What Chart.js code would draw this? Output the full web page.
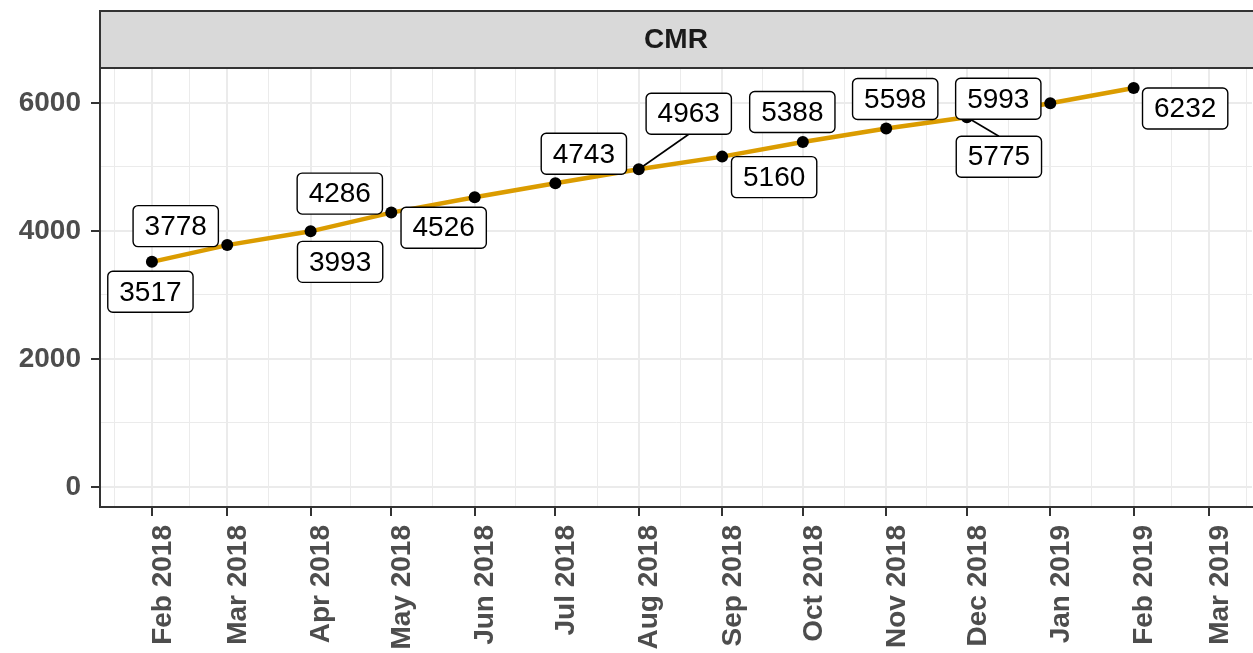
<!DOCTYPE html>
<html lang="en">
<head>
  <meta charset="UTF-8">
  <title>CMR</title>
  <script src="https://cdn.jsdelivr.net/npm/chart.js"></script>
  <style>
    html, body {
      margin: 0;
      padding: 0;
      background: #fff;
      overflow: hidden;
    }
    /* a few px wider than the window: chart.js keeps a small gap on the right */
    #wrap {
      position: relative;
      width: 1258px;
      height: 653px;
    }
    canvas {
      display: block;
    }
  </style>
</head>
<body>
  <div id="wrap"><canvas id="cmrChart"></canvas></div>

  <script>
    // data
    const months = ['2018-02', '2018-03', '2018-04', '2018-05', '2018-06', '2018-07', '2018-08',
                    '2018-09', '2018-10', '2018-11', '2018-12', '2019-01', '2019-02'];
    const counts = [3517, 3778, 3993, 4286, 4526, 4743, 4963, 5160, 5388, 5598, 5775, 5993, 6232];

    const tickMonths = ['2018-02', '2018-03', '2018-04', '2018-05', '2018-06', '2018-07', '2018-08',
                        '2018-09', '2018-10', '2018-11', '2018-12', '2019-01', '2019-02', '2019-03'];
    const tickLabels = ['Feb 2018', 'Mar 2018', 'Apr 2018', 'May 2018', 'Jun 2018', 'Jul 2018', 'Aug 2018',
                        'Sep 2018', 'Oct 2018', 'Nov 2018', 'Dec 2018', 'Jan 2019', 'Feb 2019', 'Mar 2019'];
    const yTicks = [0, 2000, 4000, 6000];
    const panelTitle = 'CMR';

    // where the repelled labels sit, in px from their point
    const labelShift = [[-1.5, 30], [-51.5, -19], [29.5, 30.5], [-51.5, -19], [-31, 30.5], [28.5, -29.5],
                        [50, -55.5], [52, 20.5], [-10.5, -30], [9, -29.5], [32, 39.5], [-52, -4.5], [51.5, 20.5]];

    const toTime = m => {
      const [y, mo] = m.split('-').map(Number);
      return Date.UTC(y, mo - 1, 1);
    };
    const DAY = 86400000;

    const tickTimes = tickMonths.map(toTime);
    const step = tickTimes[1] - tickTimes[0];
    const xTickList = [];
    xTickList.push({ value: tickTimes[0] - step / 2, minor: true });
    tickTimes.forEach((t, i) => {
      xTickList.push({ value: t, label: tickLabels[i] });
      if (i < tickTimes.length - 1) xTickList.push({ value: (t + tickTimes[i + 1]) / 2, minor: true });
    });
    xTickList.push({ value: tickTimes[tickTimes.length - 1] + step / 2, minor: true });

    const yTickList = [];
    yTicks.forEach((v, i) => {
      yTickList.push({ value: v });
      if (i < yTicks.length - 1) yTickList.push({ value: (v + yTicks[i + 1]) / 2, minor: true });
    });

    const FONT = '"Liberation Sans", Arial, Helvetica, sans-serif';
    const isMinor = c => !!(c.tick && c.tick.minor);

    const stripPlugin = {
      id: 'strip',
      afterDraw(chart) {
        const { ctx, chartArea } = chart;
        ctx.save();
        ctx.fillStyle = '#D9D9D9';
        ctx.fillRect(chartArea.left, 11, chart.width - chartArea.left + 5, chartArea.top - 11);
        ctx.strokeStyle = '#333333';
        ctx.lineWidth = 2;
        ctx.strokeRect(chartArea.left, 11, chart.width - chartArea.left + 5, chartArea.top - 11);
        ctx.fillStyle = '#1A1A1A';
        ctx.font = 'bold 28px ' + FONT;
        ctx.textAlign = 'center';
        ctx.textBaseline = 'middle';
        ctx.fillText(panelTitle, (chartArea.left + chartArea.right) / 2, (11 + chartArea.top) / 2 + 1);
        ctx.restore();
      }
    };

    const repelLabels = {
      id: 'repelLabels',
      afterDatasetsDraw(chart) {
        const ctx = chart.ctx;
        const meta = chart.getDatasetMeta(0);
        ctx.save();
        ctx.font = '28px ' + FONT;
        meta.data.forEach((pt, i) => {
          const cx = pt.x + labelShift[i][0];
          const cy = pt.y + labelShift[i][1];
          const text = String(counts[i]);
          const w = ctx.measureText(text).width + 23;
          const h = 41;
          const x1 = cx - w / 2, x2 = cx + w / 2, y1 = cy - h / 2, y2 = cy + h / 2;

          // leader segment when the box is far from its point
          const nx = Math.min(Math.max(pt.x, x1), x2);
          const ny = Math.min(Math.max(pt.y, y1), y2);
          if (Math.hypot(pt.x - nx, pt.y - ny) > 14) {
            let ex, ey;
            if (Math.abs(pt.y - cy) / (h / 2) > Math.abs(pt.x - cx) / (w / 2)) {
              ex = cx; ey = pt.y > cy ? y2 : y1;
            } else {
              ey = cy; ex = pt.x > cx ? x2 : x1;
            }
            ctx.strokeStyle = '#000';
            ctx.lineWidth = 1.6;
            ctx.beginPath();
            ctx.moveTo(pt.x, pt.y);
            ctx.lineTo(ex, ey);
            ctx.stroke();
          }

          ctx.beginPath();
          ctx.roundRect(x1, y1, w, h, 5);
          ctx.fillStyle = '#fff';
          ctx.fill();
          ctx.strokeStyle = '#000';
          ctx.lineWidth = 1.4;
          ctx.stroke();

          ctx.fillStyle = '#000';
          ctx.textAlign = 'center';
          ctx.textBaseline = 'middle';
          ctx.fillText(text, cx, cy + 1);
        });
        ctx.restore();
      }
    };

    const ctx = document.getElementById('cmrChart').getContext('2d');
    new Chart(ctx, {
      type: 'line',
      data: {
        datasets: [{
          data: months.map((m, i) => ({ x: toTime(m), y: counts[i] })),
          borderColor: '#DB9C00',
          borderWidth: 4.5,
          pointRadius: 6,
          pointBackgroundColor: '#000',
          pointBorderWidth: 0,
          tension: 0,
          fill: false
        }]
      },
      options: {
        responsive: true,
        maintainAspectRatio: false,
        animation: false,
        layout: { padding: { top: 68, left: 0, right: 0, bottom: 0 } },
        plugins: {
          legend: { display: false },
          tooltip: { enabled: false }
        },
        scales: {
          x: {
            type: 'linear',
            min: toTime('2018-02') - 19.3 * DAY,
            max: toTime('2019-03') + 16 * DAY,
            afterBuildTicks: s => { s.ticks = xTickList.map(t => ({ ...t })); },
            afterFit: s => {
              s.height = 146;
              s.paddingLeft = 0;
              s.paddingRight = 0;
            },
            border: { color: '#333333', width: 2 },
            grid: {
              color: '#EBEBEB',
              lineWidth: c => isMinor(c) ? 1 : 2,
              tickLength: 9,
              tickWidth: 2,
              tickColor: c => isMinor(c) ? 'rgba(0,0,0,0)' : '#333333'
            },
            ticks: {
              autoSkip: false,
              minRotation: 90,
              maxRotation: 90,
              padding: 9,
              labelOffset: 11,
              color: '#4D4D4D',
              font: { family: FONT, size: 28, weight: 'bold' },
              callback: (v, i, ticks) => ticks[i].minor ? '' : ticks[i].label
            }
          },
          y: {
            min: -312,
            max: 6544,
            afterBuildTicks: s => { s.ticks = yTickList.map(t => ({ ...t })); },
            afterFit: s => {
              s.width = 100;
              s.paddingTop = 0;
              s.paddingBottom = 0;
            },
            border: { color: '#333333', width: 2 },
            grid: {
              color: '#EBEBEB',
              lineWidth: c => isMinor(c) ? 1 : 2,
              tickLength: 9,
              tickWidth: 2,
              tickColor: c => isMinor(c) ? 'rgba(0,0,0,0)' : '#333333'
            },
            ticks: {
              padding: 10,
              color: '#4D4D4D',
              font: { family: FONT, size: 28, weight: 'bold' },
              callback: (v, i, ticks) => ticks[i].minor ? '' : String(v)
            }
          }
        }
      },
      plugins: [stripPlugin, repelLabels]
    });
  </script>
</body>
</html>
